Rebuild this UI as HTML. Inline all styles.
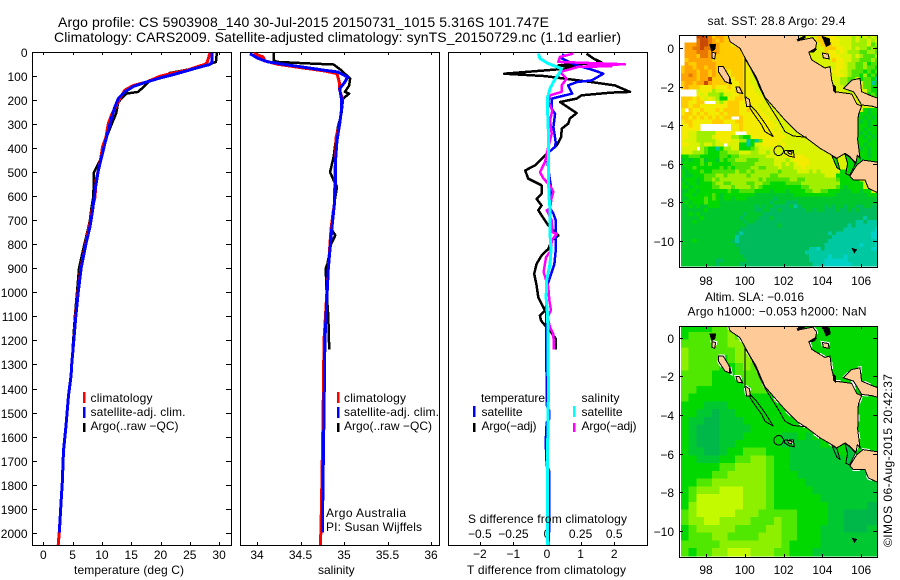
<!DOCTYPE html>
<html>
<head>
<meta charset="utf-8">
<title>Argo profile</title>
<style>
html,body{margin:0;padding:0;background:#fff;}
svg{display:block;}
text{font-family:"Liberation Sans",sans-serif;font-size:12px;fill:#000;}
.t14{font-size:14px;}
</style>
</head>
<body>
<svg id="chart" xmlns="http://www.w3.org/2000/svg" width="900" height="580" viewBox="0 0 900 580">
<defs>
<clipPath id="clipP1"><rect x="32" y="52" width="199" height="493"/></clipPath>
<clipPath id="clipP2"><rect x="240" y="52" width="199" height="493"/></clipPath>
<clipPath id="clipP3"><rect x="448" y="52" width="199" height="493"/></clipPath>
<clipPath id="clipM1"><rect x="679" y="35" width="198" height="232"/></clipPath>
<clipPath id="clipM2"><rect x="679" y="326" width="198" height="231"/></clipPath>
</defs>

<text class="t14" x="58" y="27" textLength="491">Argo profile: CS 5903908_140 30-Jul-2015 20150731_1015 5.316S 101.747E</text>
<text class="t14" x="54" y="42" textLength="567">Climatology: CARS2009. Satellite-adjusted climatology: synTS_20150729.nc (1.1d earlier)</text>

<g id="g1"></g>
<g id="g2"></g>
<g id="g3"></g>
<g id="m1"></g>
<g id="m2"></g>

<text x="74" y="574" textLength="110">temperature (deg C)</text>
<text x="318" y="574">salinity</text>
<text x="467" y="574" textLength="159">T difference from climatology</text>
<text x="468" y="523" textLength="159">S difference from climatology</text>

<g>
<rect x="83" y="392" width="2.5" height="11" fill="#f00"/>
<rect x="83" y="407" width="2.5" height="11" fill="#00f"/>
<rect x="83" y="423" width="2.5" height="9" fill="#000"/>
<text x="90.5" y="402" textLength="62">climatology</text>
<text x="90.5" y="416" textLength="95">satellite-adj. clim.</text>
<text x="90.5" y="430" textLength="88">Argo(..raw −QC)</text>
</g>
<g>
<rect x="337" y="392" width="2.5" height="11" fill="#f00"/>
<rect x="337" y="407" width="2.5" height="11" fill="#00f"/>
<rect x="337" y="423" width="2.5" height="9" fill="#000"/>
<text x="344" y="402" textLength="62">climatology</text>
<text x="344" y="416" textLength="95">satellite-adj. clim.</text>
<text x="344" y="430" textLength="88">Argo(..raw −QC)</text>
<text x="326" y="517" textLength="80">Argo Australia</text>
<text x="326" y="531" textLength="96">PI: Susan Wijffels</text>
</g>
<g>
<text x="481" y="402" textLength="64">temperature</text>
<text x="581.5" y="402" textLength="38">salinity</text>
<rect x="473" y="406" width="2.5" height="11" fill="#00f"/>
<rect x="473" y="423" width="2.5" height="9" fill="#000"/>
<rect x="573" y="406" width="2.5" height="11" fill="#0ff"/>
<rect x="573" y="423" width="2.5" height="9" fill="#f0f"/>
<text x="481.5" y="416" textLength="41">satellite</text>
<text x="481.5" y="430" textLength="55">Argo(−adj)</text>
<text x="581.5" y="416" textLength="41">satellite</text>
<text x="581.5" y="430" textLength="55">Argo(−adj)</text>
</g>

<text x="707.5" y="25" textLength="138">sat. SST: 28.8 Argo: 29.4</text>
<text x="705" y="301" textLength="99">Altim. SLA: −0.016</text>
<text x="687.5" y="315.5" textLength="179">Argo h1000: −0.053 h2000: NaN</text>
<text transform="translate(892,547) rotate(-90)" textLength="173">©IMOS 06-Aug-2015 20:42:37</text>
</svg>

<script>
// ---- profile data ----
const depthTicks = [0,100,200,300,400,500,600,700,800,900,1000,1100,1200,1300,1400,1500,1600,1700,1800,1900,2000];
const tempTicks = [0,5,10,15,20,25,30];
const salTicks = [34,34.5,35,35.5,36];
const salTickLabels = ['34','34.5','35','35.5','36'];
const tDiffTicks = [-2,-1,0,1,2];
const tDiffLabels = ['−2','−1','0','1','2'];
const sDiffTicks = [-0.5,-0.25,0,0.25,0.5];
const sDiffLabels = ['−0.5','−0.25','0','0.25','0.5'];

const climDepth = [3,40,50,61,75,86,100,124,138,158,186,221,256,297,353,394,436,492,533,603,644,700,742,800,900,1000,1100,1200,1300,1345,1430,1560,1660,1790,1885,1990,2053];
const climTemp = [28.44,27.99,27.6,26.2,24.5,22.2,19.9,17.6,15.4,13.9,13.2,12.5,11.7,11.1,10.7,10.1,9.84,9.39,8.99,8.82,8.42,8.08,7.68,7.2,6.4,5.9,5.5,5.2,4.85,4.75,4.3,3.85,3.45,3.25,3.0,2.75,2.55];
const satDepth = [3,40,51,65,79,93,107,124,142,165,193,228,269,325,381,436,492,575,658,728,800,900,1000,1100,1200,1300,1345,1430,1560,1660,1790,1885,2000];
const satTemp = [28.8,28.8,28.4,26.2,24.2,22.2,19.9,17.6,15.4,13.9,12.8,12.2,11.7,11.1,10.5,9.95,9.39,8.82,8.42,7.96,7.25,6.45,5.95,5.55,5.2,4.85,4.75,4.3,3.85,3.45,3.25,3.0,2.73];
const argoDepth = [3,40,54,68,86,103,117,144,165,172,207,256,297,353,436,464,499,603,644,700,742,800,900,1000,1100,1237];
const argoTemp = [29.6,29.46,27.9,25.6,21.6,20.5,18.2,17.1,16.2,14.2,12.8,12.4,11.7,10.8,9.95,9.39,8.65,8.53,8.25,7.96,7.57,7.0,6.1,5.75,5.4,5.0];

const climSalDepth = [6,19,36,50,64,78,89,131,158,193,242,297,353,464,631,735,900,1200,1500,1900,2053];
const climSal = [33.96,34.07,34.09,34.24,34.51,34.78,34.92,34.95,34.95,34.98,34.97,34.95,34.91,34.9,34.89,34.85,34.82,34.77,34.76,34.74,34.73];
const satSalDepth = [6,26,40,51,61,75,82,103,124,151,193,242,297,367,464,547,631,735,900,1200,1500,2000];
const satSal = [33.92,34.015,34.13,34.32,34.51,34.78,34.93,35.04,35.01,34.95,34.97,34.97,34.95,34.92,34.9,34.9,34.89,34.86,34.82,34.78,34.77,34.75];
const argoSalDepth = [3,33,40,47,51,75,110,138,165,172,193,256,311,381,436,499,533,561,603,672,735,762,800,880,900,1000,1100,1237];
const argoSal = [34.19,34.19,34.23,34.63,34.88,34.97,35.07,35.06,35.01,35.06,34.99,34.97,34.93,34.9,34.88,34.84,34.88,34.92,34.9,34.87,34.85,34.9,34.85,34.81,34.79,34.8,34.82,34.83];

const dtArgoDepth = [6,26,43,50,54,61,72,89,99,110,124,138,165,168,179,193,207,221,253,276,297,318,353,388,429,471,492,526,554,589,610,638,658,700,721,749,763,783,819,846,881,922,971,1020,1061,1075,1096,1117,1137,1165,1193,1238];
const dtArgo = [1.18,1.38,1.63,0.93,0.34,0.93,0.24,-1.27,-0.06,0.54,1.33,2.02,2.47,1.92,1.03,0.88,0.39,0.54,0.88,0.68,0.63,0.44,0.42,0.29,-0.06,-0.36,-0.65,-0.56,-0.16,-0.16,-0.31,-0.16,-0.26,-0.06,0.04,0.24,0.34,0.14,0.04,-0.16,-0.31,-0.38,-0.31,-0.26,-0.11,-0.06,-0.21,-0.18,-0.06,0.12,0.26,0.26];
const dtSatDepth = [6,26,54,72,89,117,124,138,172,193,235,256,311,374,394,415,464,506,561,651,672,700,763,825,881,936,978,1075,1238,1367,1470,1490,1530,1540,1624,1721,1742,2000,2053];
const dtSat = [0.49,0.44,0.88,1.33,1.68,1.33,0.88,0.63,0.75,0.14,0.14,0.24,0.19,0.26,0.24,0.06,0.02,0.06,0.12,0.1,0.19,0.26,0.26,0.26,0.22,0.09,-0.01,-0.03,-0.03,-0.01,-0.01,0.06,0.06,-0.01,-0.04,-0.01,0.06,0.06,0.04];
const dsArgoDepth = [6,19,40,50,55,58,61,82,110,138,165,179,207,242,283,339,394,457,499,526,554,582,603,651,658,700,749,756,783,825,853,915,978,1033,1075,1103,1144,1172,1238];
const dsArgo = [0.196,0.097,0.084,0.58,0.3,0.48,0.233,0.097,0.146,0.109,0.109,0.022,0.01,0.04,0.022,0.035,0.01,-0.015,-0.052,-0.027,0.022,0.047,0.035,0.022,-0.002,0.035,0.04,0.072,0.035,0.03,-0.007,-0.025,0.01,0.017,0.03,0.002,0.022,0.047,0.052];
const dsSatDepth = [6,26,47,68,82,124,151,186,256,325,408,492,603,651,756,825,881,950,1020,1103,1367,1443,1624,2000,2053];
const dsSat = [-0.064,-0.052,0.01,0.109,0.097,0.047,0.022,0.005,0.005,0.01,0.01,0.01,0.015,0.022,0.022,0.03,0.022,-0.002,-0.007,0.005,0.01,0.01,0.005,0.005,0.005];

// ---- map data: colour level per 0.2 deg cell (SST) ----
const sstRows = [
"....cccb9aa99 7777777777777777777777 9988877776767676",
"....bccba9a99 7777777777777777777777 9998887776766767",
".aaabccbaa999 8777777777777777777777 7999887776666756",
".aabbcbbaa999 9977777777777777777777 7799988776766565",
".aaabbbaaa999 9997777777777777777777 7798878766655665",
".aaa9bbaa9999 9998777777777777777777 7778887776765556",
".9aaaaaa99999 9998777777777777777777 7777988776655565",
".a99aaaaa9999 9998877777777777777777 7777788766556455",
"9aa9aa9aa9999 9998877777777777777777 7777788766556554",
"9aaa9aa9a9998 9998877777777777777777 7777887765554545",
"aaba9aa9a9998 9998877777777777777777 7777788765546453",
"aaaa9aac99998 8998877777777777777777 7777776655745541",
"9aa9aaca99998 8898877777777777777777 7777776657775514",
"9a99988898889 8898887777777777777777 7777777667775544",
"....788867788 8998887777777777777777 7777777767777544",
"....878666577 8898888777777777777777 7777777777777454",
"9998987876448 8998888877777777777777 7777777777777745",
"998899...7689 9988888877777777777777 7777777777777744",
"9989988888889 9988888787777777777777 7777777777777774",
"8.98898889899 9988988878777777777777 7777777777774344",
"8998989888989 9988888887877777777777 7777777777444344",
"9989898989899 ..98888888787777777777 7777777777443434",
"8998888899988 8998888888877777777777 7777777777434344",
"88988........ 8898888888887777777777 7777777777444344",
"88888........ 8898888888878777777777 7777777777443444",
"8877666668888 8...888888888777777777 7777777777434344",
"8877666678888 6654488888888877777777 7777777777443434",
"8777666667888 7766141588888777777777 7777777777444344",
"88777677677.7 7744147788887877777777 7777777777443444",
"7777.65441466 7744456777787777777777 7777777777434344",
"7776665444556 6677766776777777777777 7777777777744344",
"4455544444554 5566666667777788888777 7777777777444344",
"3434453443545 5666555666677767888877 7777777774434444",
"4444454544444 5555556666677676788877 7777777774444344",
"3445444444545 4555566556667666778777 7777777774444544",
"4344454455555 5655656666665666677767 6777774444444344",
"4334445556656 6666566666556666666666 6677744444447777",
"3444345565666 6666666565555556655666 6666654444477777",
"4344344456655 6666556655444455556666 6666664444447777",
"4434444455666 5666656544444444445566 6666654344447777",
"3344344444445 4455554444344434444556 6554443334434477",
"3443444454344 4444443333333333444444 4444433333333444",
"3344445454344 3444333333323333333333 3333333333333333",
"3434445444333 3333333333233322233333 3333333333333333",
"3343433444333 3333332323322223123333 3323233233223322",
"3333334333333 3333332233223222222332 3322232232322222",
"3343433333333 3332333322222222222222 2222222222222222",
"3333343333333 3323333222322222222222 2222222222221222",
"3334333333333 3332332222222222222222 2222222222112111",
"3333333333333 3333222222223222222222 2222222212111111",
"3333333333333 3322222222222222222222 2222222111111110",
"3333333333333 3212222222222222222222 2221211111111100",
"3333333333333 3122222222222222222222 2222111111111100",
"3334333333333 2122222222222222222222 2221111111111110",
"3333333333333 3222222222222222222222 2211111111101110",
"3333333333333 3322222222222222222211 0211111111111100",
"3333333333333 3322222222222222222111 1111111111111111",
"3333333333333 3332222222222222222211 1110111011111111",
"3333333332233 3333222222222222222211 1100000011111111",
"3333333332333 3322222222222222222221 1100000001111111"
];
// colour level per 0.4 deg cell (SLA)
const slaRows = [
"44445564444444444444444444",
"45555565444444444444444444",
"55555566544444444444444444",
"65555556654444444444444444",
"65555456665444444444444444",
"65555445655444444444444444",
"55554445555544444444444444",
"55554444555554444444444444",
"55444444455555444444444444",
"54444444444455544444444444",
"44433344444444554444444444",
"44332334444444445444444444",
"43322333444444444444444444",
"43222333344444444444444444",
"43222333444443343444444444",
"43222334444443333344444444",
"43322344555444333333444444",
"44333445566544333333344444",
"44444556666544333333333334",
"44445566666544433333333333",
"44556666666544443333333333",
"45666777666544444333333333",
"45777777666544444433333333",
"46777777666544444443333322",
"56777776665555544443322222",
"56677666655565544443322222",
"45666665555665544433322233",
"45556655556665544433333333",
"55555666666665444433333333",
"54556677766655444333333333"
];
const sstColors = {'0':'#00d2c8','1':'#00c8a0','2':'#00bb5c','3':'#00c82c','4':'#00d800','5':'#50e200','6':'#a0ee00','7':'#d8f200','8':'#f4ec00','9':'#ffcc00','a':'#ffa400','b':'#e87800','c':'#c84a00'};
const slaColors = {'2':'#00b84a','3':'#00c830','4':'#00d800','5':'#50e800','6':'#8cf000','7':'#c4fa00'};

// ---- coastline data, [lon,lat] ----
const landSumatra = [[99.1,0.78],[99.24,0.35],[99.75,0],[99.98,-0.43],[100.27,-0.95],[100.58,-1.47],[100.87,-2.16],[101.04,-2.54],[101.47,-3.03],[102.07,-3.72],[102.67,-4.33],[103.19,-4.67],[103.88,-5.19],[104.48,-5.54],[104.74,-5.71],[105.17,-5.45],[105.42,-5.62],[105.73,-5.94],[105.8,-5.54],[105.94,-5.71],[105.82,-4.76],[105.85,-3.46],[106.02,-3.0],[105.77,-2.89],[105.51,-2.37],[104.65,-2.25],[104.48,-1.65],[104.39,-0.95],[104.13,-1.02],[103.45,-0.6],[103.3,-0.2],[103.65,0],[103.7,0.3],[103.5,0.55],[102.76,0.4],[102.76,0.78]];
const landBangka = [[105.08,-2.08],[105.51,-1.65],[105.94,-1.56],[106.02,-2.25],[106.62,-2.51],[106.9,-2.6],[106.9,-3.1],[106.54,-3.0],[106.02,-2.94],[105.77,-2.51],[105.6,-2.25]];
const landJava = [[105.77,-6.06],[105.42,-6.63],[105.6,-6.84],[106.2,-6.84],[106.37,-7.27],[106.9,-7.52],[106.9,-5.92],[106.1,-5.8]];
const landNias = [[98.64,-0.95],[98.89,-0.95],[99.24,-1.55],[99.29,-1.85],[98.98,-1.73],[98.64,-1.21]];
const landSmall = [[99.55,-2.02],[99.72,-2.02],[99.89,-2.34],[99.62,-2.3]];
const landSiberut = [[100.01,-2.5],[100.23,-2.65],[100.3,-3.03],[100.1,-3.03]];
const landEnggano = [[102.2,-5.32],[102.45,-5.38],[102.4,-5.5],[102.25,-5.45]];
const landBatu = [[98.3,-0.2],[98.5,-0.25],[98.45,-0.55],[98.3,-0.5]];
const landKepri = [[104.0,-0.25],[104.3,-0.3],[104.35,-0.55],[104.05,-0.5]];
const outlineChain = [[100.27,-2.94],[100.61,-3.29],[100.92,-3.72],[101.04,-3.89],[101.47,-4.58],[101.04,-4.33],[100.87,-3.98],[100.44,-3.37],[100.27,-3.11],[100.27,-2.94]];
const outlineEnggano = [[102.05,-5.3],[102.5,-5.3],[102.55,-5.65],[102.3,-5.6],[102.05,-5.45],[102.05,-5.3]];
const outlineMeridian = [[100,-0.45],[100,-2.6]];
const outlineContour = [[100,-0.52],[100.35,-1.12],[100.61,-1.64],[100.78,-2.08],[101.04,-2.6],[101.3,-3.03],[101.73,-3.72],[102.07,-4.33],[102.5,-4.55],[103.19,-4.62]];
const straitEast = [[105.17,-5.5],[105.42,-5.65],[105.7,-5.98],[105.4,-6.6],[105.2,-6.5],[105.3,-6.0]];
const straitWest = [[104.48,-5.55],[104.75,-5.75],[104.9,-6.3],[104.75,-6.2]];
const blackBlobs = [
 [[97.7,0.75],[97.95,0.75],[97.85,0.6]],
 [[98.2,0.2],[98.5,0.2],[98.45,-0.05],[98.3,-0.15]],
 [[99.2,-1.55],[99.3,-1.8],[99.2,-1.75]],
 [[102.7,0.45],[103.1,0.65],[103.1,0.55],[102.75,0.38]],
 [[104.0,0.6],[104.35,0.5],[104.4,0.2],[104.2,0.1]],
 [[103.35,-0.2],[103.7,-0.02],[103.55,-0.18]],
 [[104.55,-1.9],[104.68,-2.0],[104.68,-2.3],[104.58,-2.2]],
 [[105.55,-10.4],[105.75,-10.45],[105.65,-10.6]]
];
const argoLon = 101.747;
const argoLat = -5.316;
const mapLatTicks = [0,-2,-4,-6,-8,-10];
const mapLatLabels = ['0','−2','−4','−6','−8','−10'];
const mapLonTicks = [98,100,102,104,106];

// ---- axis functions ----
const NS = 'http://www.w3.org/2000/svg';
const yDepth = d => 52.3 + 0.24015 * d;
const xTemp = t => 43.3 + 5.86 * t;
const xSal = s => 257 + 87 * (s - 34);
const xDT = t => 547 + 33.6 * t;
const xDS = s => 547 + 134.4 * s;

function svgEl(parent, tag, attrs) {
  const el = document.createElementNS(NS, tag);
  for (const k in attrs) el.setAttribute(k, attrs[k]);
  parent.appendChild(el);
  return el;
}

function addLabel(parent, x, y, str, anchor, name) {
  const el = svgEl(parent, 'text', {x: x, y: y, 'text-anchor': anchor});
  el.textContent = str;
  
  
  return el;
}

function addBox(parent, x0, y0, x1, y1, name) {
  const el = svgEl(parent, 'rect', {x: x0 + .5, y: y0 + .5, width: x1 - x0, height: y1 - y0, fill: 'none', stroke: '#000', 'stroke-width': 1, 'shape-rendering': 'crispEdges'});
  
  
}

function addTick(parent, x1, y1, x2, y2) {
  const el = svgEl(parent, 'line', {x1: x1, y1: y1, x2: x2, y2: y2, stroke: '#000', 'stroke-width': 1, 'shape-rendering': 'crispEdges'});
  
  
}

function addSeries(parent, depths, values, xFn, color, width, clip, name) {
  const pts = depths.map((d, i) => xFn(values[i]).toFixed(1) + ',' + yDepth(d).toFixed(1)).join(' ');
  const el = svgEl(parent, 'polyline', {points: pts, fill: 'none', stroke: color, 'stroke-width': width, 'stroke-linejoin': 'round', 'shape-rendering': 'crispEdges', 'clip-path': 'url(#' + clip + ')'});
  
  
}

// ---- profile panels ----
const g1 = document.getElementById('g1');
const g2 = document.getElementById('g2');
const g3 = document.getElementById('g3');

addBox(g1, 32, 52, 231, 545, 'temperature-plot-frame');
addBox(g2, 240, 52, 439, 545, 'salinity-plot-frame');
addBox(g3, 448, 52, 647, 545, 'difference-plot-frame');

depthTicks.forEach(d => {
  const y = Math.round(yDepth(d)) + .5;
  addTick(g1, 32, y, 37, y);
  addTick(g1, 226, y, 231, y);
  addLabel(g1, 27.5, y + 4.5, String(d), 'end', 'depth-tick-label');
});
tempTicks.forEach(t => {
  const x = Math.round(xTemp(t)) + .5;
  addTick(g1, x, 52, x, 55);
  addTick(g1, x, 542, x, 545);
  addLabel(g1, xTemp(t), 559, String(t), 'middle', 'temperature-tick-label');
});
salTicks.forEach((s, i) => {
  const x = Math.round(xSal(s)) + .5;
  addTick(g2, x, 52, x, 55);
  addTick(g2, x, 542, x, 545);
  addLabel(g2, xSal(s), 559, salTickLabels[i], 'middle', 'salinity-tick-label');
});
tDiffTicks.forEach((t, i) => {
  const x = Math.round(xDT(t)) + .5;
  addTick(g3, x, 542, x, 545);
  addLabel(g3, xDT(t), 558, tDiffLabels[i], 'middle', 't-difference-tick-label');
});
sDiffTicks.forEach((s, i) => {
  const x = Math.round(xDS(s)) + .5;
  addTick(g3, x, 52, x, 55);
  addLabel(g3, xDS(s), 538, sDiffLabels[i], 'middle', 's-difference-tick-label');
});

addSeries(g1, argoDepth, argoTemp, xTemp, '#000', 2.5, 'clipP1', 'argo-temperature-line');
addSeries(g1, climDepth, climTemp, xTemp, '#f00', 3, 'clipP1', 'climatology-temperature-line');
addSeries(g1, satDepth, satTemp, xTemp, '#00f', 3, 'clipP1', 'satellite-temperature-line');

addSeries(g2, argoSalDepth, argoSal, xSal, '#000', 2.5, 'clipP2', 'argo-salinity-line');
addSeries(g2, climSalDepth, climSal, xSal, '#f00', 3, 'clipP2', 'climatology-salinity-line');
addSeries(g2, satSalDepth, satSal, xSal, '#00f', 3, 'clipP2', 'satellite-salinity-line');

addSeries(g3, dtArgoDepth, dtArgo, xDT, '#000', 2.5, 'clipP3', 't-diff-argo-line');
addSeries(g3, dtSatDepth, dtSat, xDT, '#00f', 2.5, 'clipP3', 't-diff-satellite-line');
addSeries(g3, dsArgoDepth, dsArgo, xDS, '#f0f', 2.5, 'clipP3', 's-diff-argo-line');
addSeries(g3, dsSatDepth, dsSat, xDS, '#0ff', 3, 'clipP3', 's-diff-satellite-line');

// ---- maps ----
function drawMap(groupId, rows, palette, cellDeg, yLat, yTop, yBottom, clip, cellName, straitFill, labelBase, whiteEdge) {
  const g = document.getElementById(groupId);
  const xLon = lon => 706 + 19.4 * (lon - 98);
  const project = pts => pts.map(p => xLon(p[0]).toFixed(1) + ',' + yLat(p[1]).toFixed(1)).join(' ');
  const field = svgEl(g, 'g', {'clip-path': 'url(#' + clip + ')', 'shape-rendering': 'crispEdges'});
  const cw = 19.4 * cellDeg;
  const ch = yLat(0) - yLat(cellDeg);
  rows.forEach((rowText, r) => {
    const row = rowText.replace(/ /g, '');
    for (let c = 0; c < row.length; c++) {
      const col = palette[row[c]];
      if (!col) continue;
      const lon = 96.7 + cellDeg * c;
      const lat = 0.7 - cellDeg * r;
      const cell = svgEl(field, 'rect', {x: xLon(lon).toFixed(1), y: yLat(lat).toFixed(1), width: (cw + .5).toFixed(1), height: (ch + .5).toFixed(1), fill: col});
      
      
    }
  });
  const over = svgEl(g, 'g', {'clip-path': 'url(#' + clip + ')', 'shape-rendering': 'crispEdges'});
  [landSumatra, landBangka, landJava, landNias, landSmall, landSiberut, landEnggano, landBatu, landKepri].forEach(poly => {
    if (whiteEdge) {
      const halo = svgEl(over, 'polygon', {points: project(poly), fill: 'none', stroke: '#fff', 'stroke-width': 3, 'stroke-dasharray': '7 11'});
      
      
    }
  });
  [straitEast, straitWest].forEach(poly => {
    const el = svgEl(over, 'polygon', {points: project(poly), fill: straitFill, stroke: '#000', 'stroke-width': 1});
    
    
  });
  [landSumatra, landBangka, landJava, landNias, landSmall, landSiberut, landEnggano, landBatu, landKepri].forEach(poly => {
    const el = svgEl(over, 'polygon', {points: project(poly), fill: '#fecb98', stroke: '#000', 'stroke-width': 1});
    
    
  });
  [outlineChain, outlineEnggano, outlineMeridian, outlineContour].forEach(line => {
    const el = svgEl(over, 'polyline', {points: project(line), fill: 'none', stroke: '#000', 'stroke-width': 1});
    
    
  });
  blackBlobs.forEach(blob => {
    const el = svgEl(over, 'polygon', {points: project(blob), fill: '#000', stroke: '#000', 'stroke-width': 1});
    
    
  });
  const marker = svgEl(over, 'circle', {cx: xLon(argoLon), cy: yLat(argoLat), r: 4.8, fill: 'none', stroke: '#000', 'stroke-width': 1});
  
  

  addBox(g, 679, yTop, 877, yBottom, groupId + '-frame');
  mapLatTicks.forEach((lat, i) => {
    const y = Math.round(yLat(lat)) + .5;
    addTick(g, 679, y, 683, y);
    addTick(g, 873, y, 877, y);
    addLabel(g, 674, y + 4.5, mapLatLabels[i], 'end', 'latitude-tick-label');
  });
  mapLonTicks.forEach(lon => {
    const x = Math.round(xLon(lon)) + .5;
    addTick(g, x, yTop, x, yTop + 3);
    addTick(g, x, yBottom - 3, x, yBottom);
    addLabel(g, xLon(lon), labelBase, String(lon), 'middle', 'longitude-tick-label');
  });
}

drawMap('m1', sstRows, sstColors, 0.2, lat => 48.3 - 19.27 * lat, 35, 267, 'clipM1', 'sst-cell', '#00d800', 285, false);
drawMap('m2', slaRows, slaColors, 0.4, lat => 337.7 - 19.3 * lat, 326, 557, 'clipM2', 'sla-cell', '#00c040', 574, true);
</script>
</body>
</html>
